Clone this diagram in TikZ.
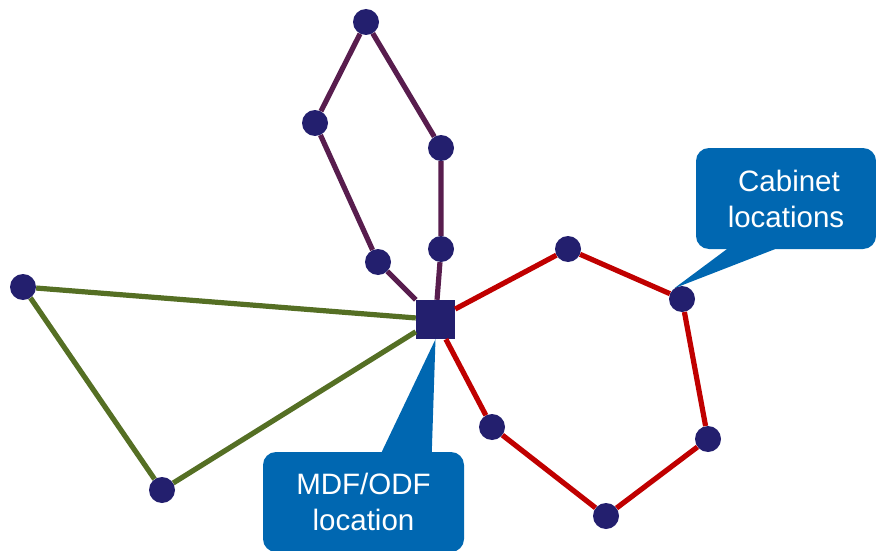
\documentclass[tikz,border=0pt]{standalone}
\usepackage{fontspec}
\setmainfont{Liberation Sans}
\usepackage{tikz}
\usetikzlibrary{positioning}
\usepackage{xcolor}
\definecolor{dotnavy}{RGB}{35,31,110}
\definecolor{ringpurple}{RGB}{88,29,78}
\definecolor{ringgreen}{RGB}{85,111,36}
\definecolor{ringred}{RGB}{192,0,0}
\definecolor{callblue}{RGB}{0,103,177}

\begin{document}
\begin{tikzpicture}[x=1pt,y=-1pt,
% styles
dotnode/.style={circle, fill=dotnavy, inner sep=0pt, minimum size=26pt},
mdfnode/.style={rectangle, fill=dotnavy, inner sep=0pt, minimum size=39pt},
calloutbox/.style={rectangle, rounded corners=13pt, fill=callblue, text=white, align=center, inner sep=0pt, font=\fontsize{29.5}{36}\selectfont},
purpleedge/.style={draw=ringpurple, line width=5.2pt},
greenedge/.style={draw=ringgreen, line width=5.2pt},
rededge/.style={draw=ringred, line width=5.2pt},
]
\useasboundingbox (0,0) rectangle (876,551);

% MDF/ODF
\node[mdfnode] (mdf) at (435.5,319.5) {};

% purple ring
\node[dotnode] (p1) at (366,22) {};
\node[dotnode] (p2) at (315,123) {};
\node[dotnode] (p3) at (441,148) {};
\node[dotnode] (p4) at (441,249) {};
\node[dotnode] (p5) at (378,262) {};

% green ring
\node[dotnode] (g1) at (23,287) {};
\node[dotnode] (g2) at (162,490) {};

% red ring
\node[dotnode] (r1) at (568,249) {};
\node[dotnode] (r2) at (682,299) {};
\node[dotnode] (r3) at (708,439) {};
\node[dotnode] (r4) at (606,516) {};
\node[dotnode] (r5) at (492,427) {};

% lines
\draw[purpleedge] (mdf) -- (p5) -- (p2) -- (p1) -- (p3) -- (p4) -- (mdf);
\draw[greenedge] (mdf) -- (g1) -- (g2) -- (mdf);
\draw[rededge] (mdf) -- (r1) -- (r2) -- (r3) -- (r4) -- (r5) -- (mdf);

% callouts
\node[calloutbox, minimum width=180pt, minimum height=101pt] (cabbox) at (786,198.5) {\hspace*{6pt}Cabinet\\locations};
\fill[callblue] ([xshift=31pt]cabbox.south west) -- ([xshift=79pt]cabbox.south west) -- (r2.125) -- cycle;

\node[calloutbox, minimum width=201pt, minimum height=100pt] (mdfbox) at (363.5,502) {MDF/ODF\\location};
\fill[callblue] ([xshift=119pt]mdfbox.north west) -- ([xshift=169pt]mdfbox.north west) -- (mdf.south) -- cycle;

\end{tikzpicture}
\end{document}
